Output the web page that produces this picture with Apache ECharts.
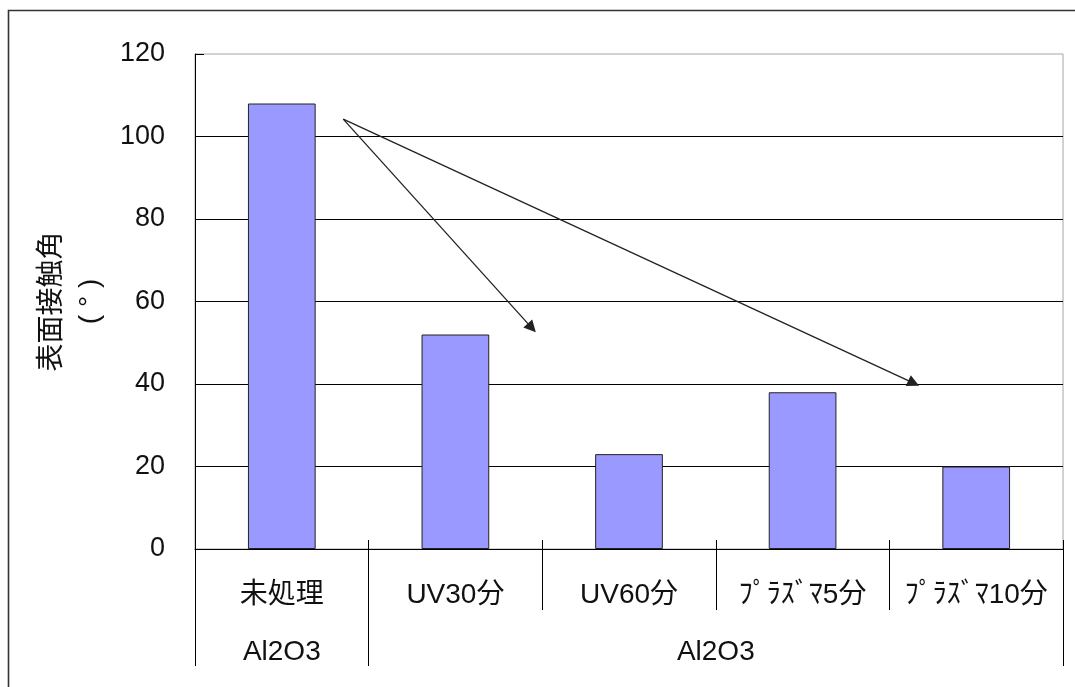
<!DOCTYPE html>
<html>
<head>
<meta charset="utf-8">
<script src="https://cdn.jsdelivr.net/npm/echarts@6/dist/echarts.min.js"></script>
<style>
  html, body { margin: 0; padding: 0; background: #fff; }
  #chart { width: 1075px; height: 687px; }
</style>
</head>
<body>
<div id="chart"></div>
<script>
// Surface contact angle by treatment
const categories = ['未処理', 'UV30分', 'UV60分', 'ﾌﾟﾗｽﾞﾏ5分', 'ﾌﾟﾗｽﾞﾏ10分'];
const contactAngle = [108, 52, 23, 38, 20];
// second label row: substrate groups, each spanning a number of categories
const groupNames = ['Al2O3', 'Al2O3'];
const groupSpans = [1, 4];
const yTicks = { min: 0, max: 120, interval: 20 };
// arrows in [category index, value] units
const arrowFrom = [0.354, 104.2];
const arrowTargets = [[1.44, 53.6], [3.64, 40.2]];

const FONT = "'Liberation Sans','Noto Sans CJK JP',sans-serif";

// group boundaries and centres, in half-category units
const groupBounds = [0];
const groupCentres = [];
groupSpans.forEach(function (s) {
  const start = groupBounds[groupBounds.length - 1];
  groupCentres.push(start + s);
  groupBounds.push(start + 2 * s);
});
const halfMax = 2 * categories.length;

const chart = echarts.init(document.getElementById('chart'), null, { renderer: 'canvas' });

chart.setOption({
  backgroundColor: '#fff',
  animation: false,
  graphic: [{
    type: 'rect',
    shape: { x: 8.5, y: 10.5, width: 1100, height: 720 },
    style: { fill: 'none', stroke: '#333', lineWidth: 1.6 },
    silent: true,
    z: 0
  }],
  grid: {
    left: 195, top: 54, right: 12, bottom: 138,
    show: true, borderColor: '#a6a6a6', borderWidth: 1,
    containLabel: false, outerBoundsMode: 'none'
  },
  xAxis: [
    {
      type: 'category', data: categories, position: 'bottom',
      axisLine: { show: true, lineStyle: { color: '#000', width: 1 } },
      axisTick: { show: true, inside: true, length: 9, interval: 0, lineStyle: { color: '#000' } },
      axisLabel: { interval: 0, margin: 32, color: '#111', fontSize: 28, fontFamily: FONT },
      splitLine: { show: false }
    },
    {
      type: 'category', data: categories, position: 'bottom',
      axisLine: { show: false },
      axisTick: { show: true, length: 61, interval: 0, lineStyle: { color: '#000' } },
      axisLabel: { show: false },
      splitLine: { show: false }
    },
    {
      type: 'value', min: 0, max: halfMax, position: 'bottom',
      axisLine: { show: false },
      axisTick: { show: true, length: 117, customValues: groupBounds, lineStyle: { color: '#000' } },
      axisLabel: {
        show: true, margin: 89, color: '#111', fontSize: 28, fontFamily: FONT,
        customValues: groupCentres,
        formatter: function (v) {
          const i = groupCentres.indexOf(v);
          return i >= 0 ? groupNames[i] : '';
        }
      },
      splitLine: { show: false }
    },
    {
      type: 'value', min: -0.5, max: categories.length - 0.5, show: false
    }
  ],
  yAxis: {
    type: 'value', min: yTicks.min, max: yTicks.max, interval: yTicks.interval,
    name: '表面接触角\n( ° )',
    nameLocation: 'middle', nameRotate: 90, nameGap: 86,
    nameTextStyle: { color: '#111', fontSize: 28, fontFamily: FONT, lineHeight: 38 },
    axisLine: { show: true, lineStyle: { color: '#000', width: 1 } },
    axisTick: { show: true, inside: true, length: 9, lineStyle: { color: '#000' } },
    axisLabel: { margin: 30, color: '#111', fontSize: 27, fontFamily: FONT },
    splitLine: { show: true, showMaxLine: false, lineStyle: { color: '#000', width: 1 } }
  },
  series: [
    {
      type: 'bar', data: contactAngle, xAxisIndex: 0, barWidth: '39%',
      itemStyle: { color: '#9999ff', borderColor: '#222', borderWidth: 1 },
      z: 3
    },
    {
      type: 'lines', coordinateSystem: 'cartesian2d', xAxisIndex: 3, yAxisIndex: 0,
      symbol: ['none', 'triangle'], symbolSize: 12,
      lineStyle: { color: '#222', width: 1.3, opacity: 1 },
      data: arrowTargets.map(function (t) { return { coords: [arrowFrom, t] }; }),
      z: 5
    }
  ]
});
</script>
</body>
</html>
